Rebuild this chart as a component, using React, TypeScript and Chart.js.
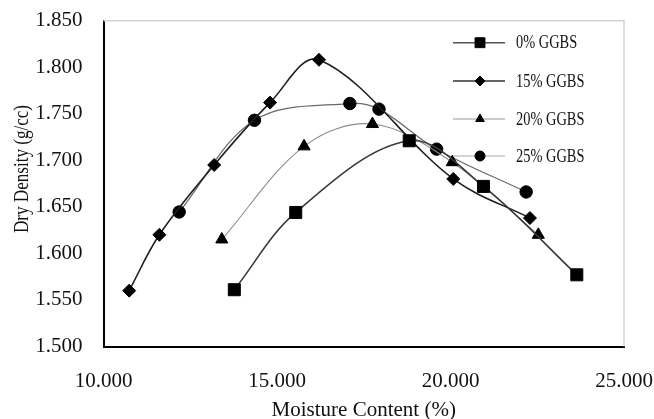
import React, { useEffect, useRef } from "react";
import { Chart, registerables } from "chart.js";

Chart.register(...registerables);

const seriesNames = ["0% GGBS", "15% GGBS", "20% GGBS", "25% GGBS"];

const moisture0 = [13.77, 15.54, 18.81, 20.95, 23.64];
const density0 = [1.561, 1.644, 1.721, 1.672, 1.577];

const moisture15 = [10.74, 11.61, 13.19, 14.8, 16.21, 20.08, 22.29];
const density15 = [1.56, 1.62, 1.695, 1.762, 1.808, 1.68, 1.638];

const moisture20 = [13.41, 15.78, 17.75, 20.05, 22.53];
const density20 = [1.615, 1.715, 1.739, 1.698, 1.62];

const moisture25 = [12.18, 14.35, 17.1, 17.94, 19.6, 22.18];
const density25 = [1.6445, 1.743, 1.761, 1.755, 1.712, 1.666];

const xTicks = [10, 15, 20, 25];
const yTicks = [1.5, 1.55, 1.6, 1.65, 1.7, 1.75, 1.8, 1.85];

const FONT = "'Liberation Serif', 'Times New Roman', serif";

const toPoints = (xs: number[], ys: number[]) => xs.map((x, i) => ({ x, y: ys[i] }));

const styles = [
  { line: "#3a3a3a", width: 1.6, point: "rect", radius: 8.5, legLine: "#555", legRadius: 7 },
  { line: "#1f1f1f", width: 1.6, point: "rectRot", radius: 6.5, legLine: "#333", legRadius: 5 },
  { line: "#8c8c8c", width: 1.1, point: "triangle", radius: 7, legLine: "#999", legRadius: 5 },
  { line: "#6a6a6a", width: 1.2, point: "circle", radius: 6.2, legLine: "#aaa", legRadius: 5 },
];

function drawMarker(ctx: CanvasRenderingContext2D, style: string, r: number, x: number, y: number) {
  ctx.beginPath();
  if (style === "rect") {
    const s = Math.SQRT1_2 * r;
    ctx.rect(x - s, y - s, 2 * s, 2 * s);
  } else if (style === "rectRot") {
    ctx.moveTo(x - r, y);
    ctx.lineTo(x, y - r);
    ctx.lineTo(x + r, y);
    ctx.lineTo(x, y + r);
    ctx.closePath();
  } else if (style === "triangle") {
    ctx.moveTo(x, y - r);
    ctx.lineTo(x + r * 0.866, y + r * 0.5);
    ctx.lineTo(x - r * 0.866, y + r * 0.5);
    ctx.closePath();
  } else {
    ctx.arc(x, y, r, 0, Math.PI * 2);
  }
  ctx.fill();
  ctx.stroke();
}

const overlayPlugin = {
  id: "overlay",
  afterDraw(chart: any) {
    const ctx = chart.ctx as CanvasRenderingContext2D;
    const a = chart.chartArea;
    ctx.save();
    // plot border top/right (light gray)
    ctx.strokeStyle = "#d4d4d4";
    ctx.lineWidth = 1.5;
    ctx.beginPath();
    ctx.moveTo(a.left, a.top);
    ctx.lineTo(a.right, a.top);
    ctx.lineTo(a.right, a.bottom);
    ctx.stroke();

    // legend
    const rows = [42.7, 81, 119, 156];
    chart.data.datasets.forEach((ds: any, i: number) => {
      const st = styles[i];
      const y = rows[i];
      ctx.strokeStyle = st.legLine;
      ctx.lineWidth = st.width;
      ctx.beginPath();
      ctx.moveTo(453, y);
      ctx.lineTo(505, y);
      ctx.stroke();
      ctx.fillStyle = "#000";
      ctx.strokeStyle = "#000";
      ctx.lineWidth = 1;
      drawMarker(ctx, st.point, st.legRadius, 480, y);
      ctx.save();
      ctx.font = `18px ${FONT}`;
      ctx.fillStyle = "#111";
      ctx.textBaseline = "middle";
      ctx.textAlign = "left";
      ctx.translate(516, y + 1);
      ctx.scale(0.8, 1);
      ctx.fillText(ds.label, 0, 0);
      ctx.restore();
    });

    // axis titles
    ctx.fillStyle = "#111";
    ctx.textAlign = "center";
    ctx.textBaseline = "middle";
    ctx.font = `21px ${FONT}`;
    ctx.fillText("Moisture Content (%)", (a.left + a.right) / 2, 410);

    ctx.save();
    ctx.font = `21px ${FONT}`;
    const label = "Dry Density (g/cc)";
    const w = ctx.measureText(label).width;
    ctx.translate(22, 169);
    ctx.rotate(-Math.PI / 2);
    ctx.scale(128 / w, 1);
    ctx.fillText(label, 0, 0);
    ctx.restore();
    ctx.restore();
  },
};

const zeroPad = (axis: any) => {
  axis.paddingLeft = 0;
  axis.paddingRight = 0;
  axis.paddingTop = 0;
  axis.paddingBottom = 0;
};

export default function App() {
  const ref = useRef<HTMLCanvasElement | null>(null);

  useEffect(() => {
    if (!ref.current) return;
    const allData = [
      toPoints(moisture0, density0),
      toPoints(moisture15, density15),
      toPoints(moisture20, density20),
      toPoints(moisture25, density25),
    ];
    const chart = new Chart(ref.current, {
      type: "line",
      data: {
        datasets: allData.map((d, i) => ({
          label: seriesNames[i],
          data: d,
          borderColor: styles[i].line,
          borderWidth: styles[i].width,
          backgroundColor: "#000",
          pointStyle: styles[i].point as any,
          pointRadius: styles[i].radius,
          pointBackgroundColor: "#000",
          pointBorderColor: "#000",
          pointBorderWidth: 1,
          tension: 0.35,
          fill: false,
        })),
      },
      options: {
        animation: false,
        responsive: false,
        events: [],
        layout: { padding: { left: 0, top: 20.7, right: 30, bottom: 0 } },
        plugins: { legend: { display: false }, tooltip: { enabled: false } },
        scales: {
          x: {
            type: "linear",
            min: 10,
            max: 25,
            afterBuildTicks: (axis: any) => {
              axis.ticks = xTicks.map((v) => ({ value: v }));
            },
            afterFit: (axis: any) => {
              axis.height = 72.5;
              zeroPad(axis);
            },
            grid: { display: false, drawTicks: false },
            border: { display: true, color: "#000", width: 2 },
            ticks: {
              padding: 22,
              color: "#111",
              font: { family: FONT, size: 21 },
              maxRotation: 0,
              callback: (v: any) => Number(v).toFixed(3),
            },
          },
          y: {
            type: "linear",
            min: 1.5,
            max: 1.85,
            afterBuildTicks: (axis: any) => {
              axis.ticks = yTicks.map((v) => ({ value: v }));
            },
            afterFit: (axis: any) => {
              axis.width = 103.5;
              zeroPad(axis);
            },
            grid: { display: false, drawTicks: false },
            border: { display: true, color: "#000", width: 2 },
            ticks: {
              padding: 21,
              color: "#111",
              font: { family: FONT, size: 21 },
              callback: (v: any) => Number(v).toFixed(3),
            },
          },
        },
      },
      plugins: [overlayPlugin],
    });
    return () => chart.destroy();
  }, []);

  return (
    <div style={{ position: "absolute", left: 0, top: 0, width: 654, height: 419, background: "#fff" }}>
      <canvas ref={ref} width={654} height={419} style={{ width: 654, height: 419 }} />
    </div>
  );
}
